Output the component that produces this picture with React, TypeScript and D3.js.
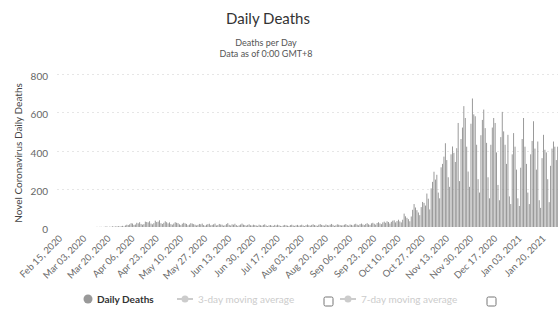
import React, { useEffect, useRef } from 'react';
import * as d3 from 'd3';

// daily values, Feb 15 2020 -> Jan 31 2021
const deathsFeb = [0, 0, 0, 0, 0, 0, 0, 0, 0, 0, 0, 0, 0, 0, 0];
const deathsMar = [0, 0, 0, 0, 0, 0, 0, 0, 0, 0, 0, 1, 0, 1, 1, 0, 1, 2, 3, 0, 2, 1, 4, 2, 3, 3, 5, 2, 4, 6, 3];
const deathsApr = [8, 12, 10, 14, 20, 18, 11, 13, 22, 19, 25, 16, 12, 15, 28, 26, 24, 30, 18, 14, 20, 33, 26, 28, 35, 20, 16, 22, 30, 25];
const deathsMay = [19, 24, 15, 12, 18, 25, 22, 20, 14, 10, 17, 22, 19, 16, 9, 13, 20, 18, 15, 12, 8, 11, 16, 14, 18, 10, 7, 12, 15, 17, 9];
const deathsJun = [11, 14, 18, 8, 10, 16, 13, 12, 7, 9, 15, 20, 11, 8, 14, 12, 17, 10, 6, 9, 13, 18, 12, 10, 7, 11, 14, 9, 8, 12];
const deathsJul = [10, 8, 6, 12, 9, 7, 11, 14, 8, 5, 9, 10, 7, 6, 11, 8, 12, 9, 6, 4, 8, 11, 9, 7, 5, 10, 12, 8, 6, 9, 11];
const deathsAug = [7, 9, 12, 8, 5, 10, 13, 9, 7, 11, 14, 10, 8, 6, 12, 15, 11, 9, 7, 13, 10, 8, 12, 16, 11, 6, 9, 14, 12, 10, 8];
const deathsSep = [9, 12, 15, 10, 7, 13, 11, 8, 14, 17, 12, 9, 15, 18, 13, 10, 16, 20, 14, 11, 19, 22, 17, 12, 21, 25, 19, 15, 24, 28];
const deathsOct = [22, 30, 26, 18, 27, 33, 35, 24, 31, 38, 29, 24, 38, 70, 56, 48, 41, 30, 55, 90, 120, 102, 88, 76, 62, 104, 131, 126, 112, 175, 148];
const deathsNov = [92, 202, 236, 289, 248, 273, 180, 150, 312, 330, 368, 438, 350, 260, 210, 380, 421, 388, 340, 412, 544, 240, 460, 520, 632, 570, 420, 290, 210, 540];
const deathsDec = [672, 589, 579, 430, 250, 180, 480, 560, 614, 517, 440, 260, 150, 430, 520, 570, 544, 390, 220, 140, 470, 602, 500, 430, 330, 482, 160, 120, 380, 491, 420];
const deathsJan = [300, 150, 110, 310, 460, 570, 420, 330, 180, 120, 380, 450, 553, 410, 300, 447, 140, 100, 360, 482, 404, 390, 250, 130, 320, 410, 447, 420, 350, 420, 300];

const dailyDeaths = [
  ...deathsFeb, ...deathsMar, ...deathsApr, ...deathsMay, ...deathsJun, ...deathsJul,
  ...deathsAug, ...deathsSep, ...deathsOct, ...deathsNov, ...deathsDec, ...deathsJan,
];

const startDate = new Date(2020, 1, 15);
const fmt = d3.timeFormat('%b %d, %Y');
const categories = dailyDeaths.map((_, i) => fmt(d3.timeDay.offset(startDate, i)));

const tickLabels = [
  'Feb 15, 2020', 'Mar 03, 2020', 'Mar 20, 2020', 'Apr 06, 2020', 'Apr 23, 2020',
  'May 10, 2020', 'May 27, 2020', 'Jun 13, 2020', 'Jun 30, 2020', 'Jul 17, 2020',
  'Aug 03, 2020', 'Aug 20, 2020', 'Sep 06, 2020', 'Sep 23, 2020', 'Oct 10, 2020',
  'Oct 27, 2020', 'Nov 13, 2020', 'Nov 30, 2020', 'Dec 17, 2020', 'Jan 03, 2021',
  'Jan 20, 2021',
];
const yTicks = [0, 200, 400, 600, 800];

const FONT = 'Lato, "Open Sans", sans-serif';

export default function App() {
  const svgRef = useRef<SVGSVGElement>(null);

  useEffect(() => {
    if (!svgRef.current) return;
    const svg = d3.select(svgRef.current);
    svg.selectAll('*').remove();

    const width = 558;
    const step = 1.422;
    const x = d3.scaleLinear()
      .domain([0, dailyDeaths.length - 1])
      .range([60, 60 + step * (dailyDeaths.length - 1)]);
    const y = d3.scaleLinear().domain([0, 800]).range([227, 74]);

    // titles
    svg.append('text')
      .attr('x', 268).attr('y', 24)
      .attr('text-anchor', 'middle')
      .style('font-size', '15px').style('fill', '#333')
      .text('Daily Deaths');
    svg.append('text')
      .attr('x', 266).attr('y', 46)
      .attr('text-anchor', 'middle')
      .style('font-size', '9px').style('fill', '#555')
      .text('Deaths per Day');
    svg.append('text')
      .attr('x', 266).attr('y', 57)
      .attr('text-anchor', 'middle')
      .style('font-size', '9px').style('fill', '#555')
      .text('Data as of 0:00 GMT+8');

    // gridlines
    svg.append('g')
      .selectAll('line')
      .data(yTicks.slice(1))
      .join('line')
      .attr('x1', 57).attr('x2', width)
      .attr('y1', d => Math.round(y(d)) + 0.5)
      .attr('y2', d => Math.round(y(d)) + 0.5)
      .attr('stroke', '#e6e6e6')
      .attr('stroke-dasharray', '2,3');

    // y tick labels
    svg.append('g')
      .selectAll('text')
      .data(yTicks)
      .join('text')
      .attr('x', 48)
      .attr('y', d => y(d) + 6)
      .attr('text-anchor', 'end')
      .style('font-size', '10px').style('fill', '#666')
      .text(d => d);

    // y axis title
    svg.append('text')
      .attr('transform', 'translate(22,153) rotate(-90)')
      .attr('text-anchor', 'middle')
      .style('font-size', '10px').style('fill', '#444')
      .text('Novel Coronavirus Daily Deaths');

    // bars
    svg.append('g')
      .selectAll('rect')
      .data(dailyDeaths)
      .join('rect')
      .attr('x', (_, i) => x(i) - 0.45)
      .attr('width', 0.9)
      .attr('y', d => y(d))
      .attr('height', d => y(0) - y(d))
      .attr('fill', '#8f8f8f');

    // x tick labels
    svg.append('g')
      .selectAll('text')
      .data(tickLabels)
      .join('text')
      .attr('transform', d => `translate(${x(categories.indexOf(d)) + 3},239) rotate(-45)`)
      .attr('text-anchor', 'end')
      .style('font-size', '9.5px').style('fill', '#6a6a6a')
      .text(d => d);

    // legend
    const lg = svg.append('g').attr('transform', 'translate(0,299)');
    lg.append('circle').attr('cx', 88).attr('cy', 0).attr('r', 4.5).attr('fill', '#999');
    lg.append('text').attr('x', 97).attr('y', 3.5)
      .style('font-size', '10px').style('font-weight', 'bold').style('fill', '#333')
      .text('Daily Deaths');

    const hidden = [
      { label: '3-day moving average', x0: 177, box: 324 },
      { label: '7-day moving average', x0: 340, box: 487 },
    ];
    hidden.forEach(h => {
      lg.append('line').attr('x1', h.x0).attr('x2', h.x0 + 16).attr('y1', 0).attr('y2', 0)
        .attr('stroke', '#ccc').attr('stroke-width', 2);
      lg.append('circle').attr('cx', h.x0 + 8).attr('cy', 0).attr('r', 3.5).attr('fill', '#ccc');
      lg.append('text').attr('x', h.x0 + 21).attr('y', 3.5)
        .style('font-size', '10px').style('fill', '#ccc')
        .text(h.label);
      lg.append('rect').attr('x', h.box).attr('y', -2).attr('width', 9).attr('height', 9)
        .attr('rx', 1.5).attr('fill', '#fff').attr('stroke', '#777');
    });
  }, []);

  return (
    <svg
      ref={svgRef}
      width={558}
      height={315}
      style={{ position: 'absolute', left: 0, top: 0, background: '#fff', fontFamily: FONT }}
    />
  );
}
